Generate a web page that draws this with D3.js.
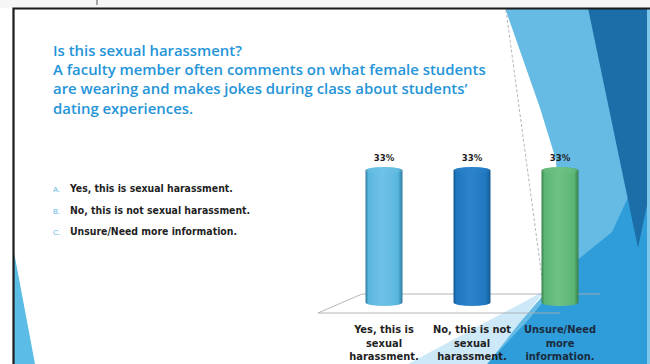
<!DOCTYPE html>
<html>
<head>
<meta charset="utf-8">
<script src="https://cdn.jsdelivr.net/npm/d3@7/dist/d3.min.js"></script>
<style>
  html, body { margin: 0; padding: 0; background: #ffffff; }
  svg { display: block; }
</style>
</head>
<body>
<svg id="chart" width="650" height="364"></svg>
<script>
// Poll question and answer options
const questionLines = [
  "Is this sexual harassment?",
  "A faculty member often comments on what female students",
  "are wearing and makes jokes during class about students\u2019",
  "dating experiences."
];
const optionLetters = ["A.", "B.", "C."];
const options = [
  "Yes, this is sexual harassment.",
  "No, this is not sexual harassment.",
  "Unsure/Need more information."
];
// Category labels under each bar, already broken into lines
const categoryLines = [
  ["Yes, this is", "sexual", "harassment."],
  ["No, this is not", "sexual", "harassment."],
  ["Unsure/Need", "more", "information."]
];
// Share of responses per option (%)
const values = [33, 33, 33];
const valueLabels = ["33%", "33%", "33%"];
const barColors = [
  { base: "#5ab6de", light: "#6fc2e8", dark: "#2f7a9e" },
  { base: "#2077bf", light: "#2d84cc", dark: "#155a92" },
  { base: "#5cb574", light: "#6dc284", dark: "#387f4c" }
];

const svg = d3.select("#chart");
const W = 650, H = 364;

// ---- slide background decoration ----
const bg = svg.append("g");
bg.append("rect").attr("width", W).attr("height", H).attr("fill", "#ffffff");
bg.append("rect").attr("width", W).attr("height", 8).attr("fill", "#f6f6f6");

// light blue facet on the right
bg.append("path")
  .attr("d", "M505,8 L650,8 L650,364 L487,364 L520,322 L546,292 L560,240 L556,160 L540,108 Z")
  .attr("fill", "#66bbe4");
// mid blue facet lower right
bg.append("path")
  .attr("d", "M650,150 L650,364 L487,364 L530,318 L575,262 L612,232 Z")
  .attr("fill", "#2f9dd9");
// pale translucent sliver near the floor
bg.append("path")
  .attr("d", "M408,364 L546,290 L520,322 L487,364 Z")
  .attr("fill", "#cde8f7");
// dark blue facet top right
bg.append("path")
  .attr("d", "M588,8 L648,8 L648,200 L638,248 Z")
  .attr("fill", "#1b6ea7");
bg.append("rect").attr("x", 647).attr("y", 8).attr("width", 3).attr("height", 356).attr("fill", "#7cc6ea");
// faint guide line along the light facet
bg.append("path")
  .attr("d", "M506,10 L545,300")
  .attr("stroke", "#9aa6b0").attr("stroke-width", 0.8)
  .attr("stroke-dasharray", "3,2").attr("fill", "none");
// small blue corner lower left
bg.append("path")
  .attr("d", "M14,252 L35,364 L14,364 Z")
  .attr("fill", "#5bbce6");

// slide frame
bg.append("path")
  .attr("d", "M13.5,364 L13.5,8.5 L650,8.5")
  .attr("stroke", "#1b1b1b").attr("stroke-width", 2.2).attr("fill", "none");
bg.append("line").attr("x1", 97).attr("x2", 97).attr("y1", 0).attr("y2", 5)
  .attr("stroke", "#555").attr("stroke-width", 1);

// ---- question text ----
const qFont = "'Open Sans', 'Noto Sans', sans-serif";
svg.append("g").selectAll("text")
  .data(questionLines)
  .join("text")
  .attr("x", 53)
  .attr("y", (d, i) => 56 + i * 19.2)
  .attr("font-family", qFont)
  .attr("font-weight", 600)
  .attr("font-size", 14.9)
  .attr("fill", "#2594d8")
  .text(d => d);

// ---- option list ----
const opt = svg.append("g");
opt.selectAll("text.letter")
  .data(optionLetters)
  .join("text")
  .attr("class", "letter")
  .attr("x", 53)
  .attr("y", (d, i) => 192 + i * 21.5)
  .attr("font-family", "'Liberation Sans', Arial, sans-serif")
  .attr("font-size", 7.5)
  .attr("fill", "#5fb6e6")
  .text(d => d);
opt.selectAll("text.opt")
  .data(options)
  .join("text")
  .attr("class", "opt")
  .attr("x", 70)
  .attr("y", (d, i) => 192 + i * 21.5)
  .attr("font-family", "'DejaVu Sans Condensed', 'DejaVu Sans', sans-serif")
  .attr("font-weight", 700)
  .attr("font-size", 10.4)
  .attr("fill", "#1f1f1f")
  .text(d => d);

// ---- bar chart ----
const x = d3.scalePoint().domain(d3.range(values.length)).range([340, 604]).padding(0.5);
const y = d3.scaleLinear().domain([0, 33]).range([306, 167]);
const barW = 37;
const capR = 3.5;

// floor plane
const floor = svg.append("g").attr("fill", "none").attr("stroke", "#a9aeb3").attr("stroke-width", 0.9);
floor.append("path").attr("d", `M318,${y(0) + 7} L362,${y(0) - 12} L600,${y(0) - 12}`);
floor.append("path").attr("d", `M318,${y(0) + 7} L560,${y(0) + 7}`);

const defs = svg.append("defs");
barColors.forEach((c, i) => {
  const g = defs.append("linearGradient").attr("id", "cyl" + i)
    .attr("x1", "0%").attr("x2", "100%").attr("y1", "0%").attr("y2", "0%");
  g.append("stop").attr("offset", "0%").attr("stop-color", c.dark);
  g.append("stop").attr("offset", "8%").attr("stop-color", c.base);
  g.append("stop").attr("offset", "45%").attr("stop-color", c.light);
  g.append("stop").attr("offset", "88%").attr("stop-color", c.base);
  g.append("stop").attr("offset", "100%").attr("stop-color", c.dark);
});

const bars = svg.append("g").selectAll("g")
  .data(values)
  .join("g");
bars.append("rect")
  .attr("x", (d, i) => x(i) - barW / 2)
  .attr("y", d => y(d))
  .attr("width", barW)
  .attr("height", d => y(0) - y(d))
  .attr("rx", barW / 2).attr("ry", capR)
  .attr("fill", (d, i) => `url(#cyl${i})`);
bars.append("ellipse")
  .attr("cx", (d, i) => x(i))
  .attr("cy", d => y(d) + capR)
  .attr("rx", barW / 2 - 0.5).attr("ry", capR)
  .attr("fill", (d, i) => barColors[i].light)
  .attr("opacity", 0.4);

// value labels
svg.append("g").selectAll("text")
  .data(values)
  .join("text")
  .attr("x", (d, i) => x(i))
  .attr("y", d => y(d) - 6)
  .attr("text-anchor", "middle")
  .attr("font-family", "'DejaVu Sans Condensed', 'DejaVu Sans', sans-serif")
  .attr("font-weight", 700)
  .attr("font-size", 9.5)
  .attr("fill", "#1f1f1f")
  .text((d, i) => valueLabels[i]);

// category labels
const cat = svg.append("g").selectAll("text")
  .data(categoryLines)
  .join("text")
  .attr("text-anchor", "middle")
  .attr("font-family", "'DejaVu Sans Condensed', 'DejaVu Sans', sans-serif")
  .attr("font-weight", 700)
  .attr("font-size", 11)
  .attr("fill", (d, i) => i === 2 ? "#1a2b40" : "#1f1f1f");
cat.selectAll("tspan")
  .data((d, i) => d.map(t => ({ t, i })))
  .join("tspan")
  .attr("x", d => x(d.i))
  .attr("y", (d, j) => 333 + j * 13.5)
  .text(d => d.t);
</script>
</body>
</html>
